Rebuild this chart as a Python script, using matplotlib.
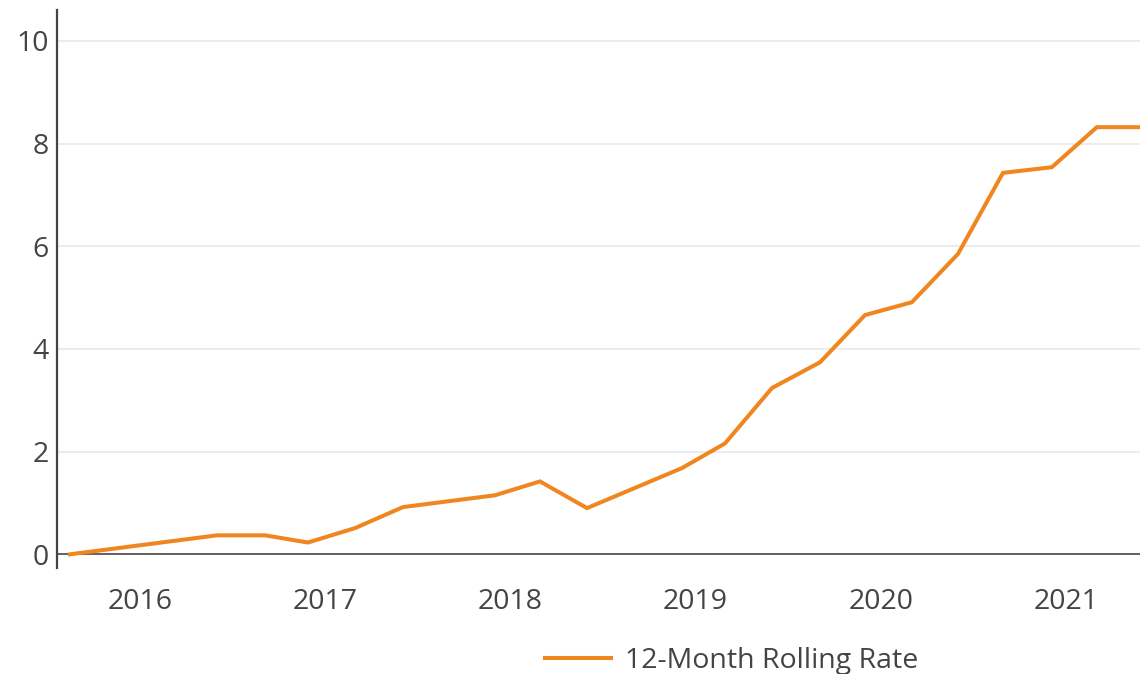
import matplotlib
matplotlib.use("Agg")
import matplotlib.pyplot as plt

# Data (decimal years, rate)
years = [2015.622, 2016.416, 2016.675, 2016.907, 2017.161, 2017.420, 2017.917,
         2018.160, 2018.414, 2018.927, 2019.159, 2019.413, 2019.672, 2019.915,
         2020.168, 2020.417, 2020.660, 2020.924, 2021.167, 2021.400]
rate = [0.00, 0.37, 0.37, 0.23, 0.51, 0.92, 1.15,
        1.42, 0.90, 1.68, 2.16, 3.24, 3.74, 4.66,
        4.91, 5.85, 7.43, 7.54, 8.32, 8.32]
x_ticks = [2016, 2017, 2018, 2019, 2020, 2021]
x_labels = ["2016", "2017", "2018", "2019", "2020", "2021"]
y_ticks = [0, 2, 4, 6, 8, 10]
series_name = "12-Month Rolling Rate"

plt.rcParams['font.family'] = ['Open Sans', 'DejaVu Sans']
text_color = "#444444"
line_color = "#f0861f"

fig = plt.figure(figsize=(11.40, 6.74), dpi=100)
ax = fig.add_axes([0.05, 0.157, 0.95, 0.828])

ax.set_xlim(2015.552, 2021.40)
ax.set_ylim(-0.27, 10.6)

for y in y_ticks[1:]:
    ax.axhline(y, color="#ebebeb", lw=1.3, zorder=1)
ax.axhline(0, color="#555555", lw=1.3, zorder=2)

line, = ax.plot(years, rate, color=line_color, lw=2.9, solid_joinstyle="miter",
                zorder=3, label=series_name, clip_on=False)

ax.set_xticks(x_ticks)
ax.set_xticklabels(x_labels)
ax.set_yticks(y_ticks)
ax.tick_params(axis="both", length=0, labelsize=20.5, colors=text_color)
ax.tick_params(axis="x", pad=14)
ax.tick_params(axis="y", pad=6)

for s in ["top", "right", "bottom"]:
    ax.spines[s].set_visible(False)
ax.spines["left"].set_color("#444444")
ax.spines["left"].set_linewidth(1.6)

leg = fig.legend(handles=[line], loc="center", bbox_to_anchor=(0.642, 0.020),
                 frameon=False, fontsize=20.5, handlelength=2.3, handletextpad=0.5)
for t in leg.get_texts():
    t.set_color(text_color)

fig.savefig("out.png", dpi=100)
